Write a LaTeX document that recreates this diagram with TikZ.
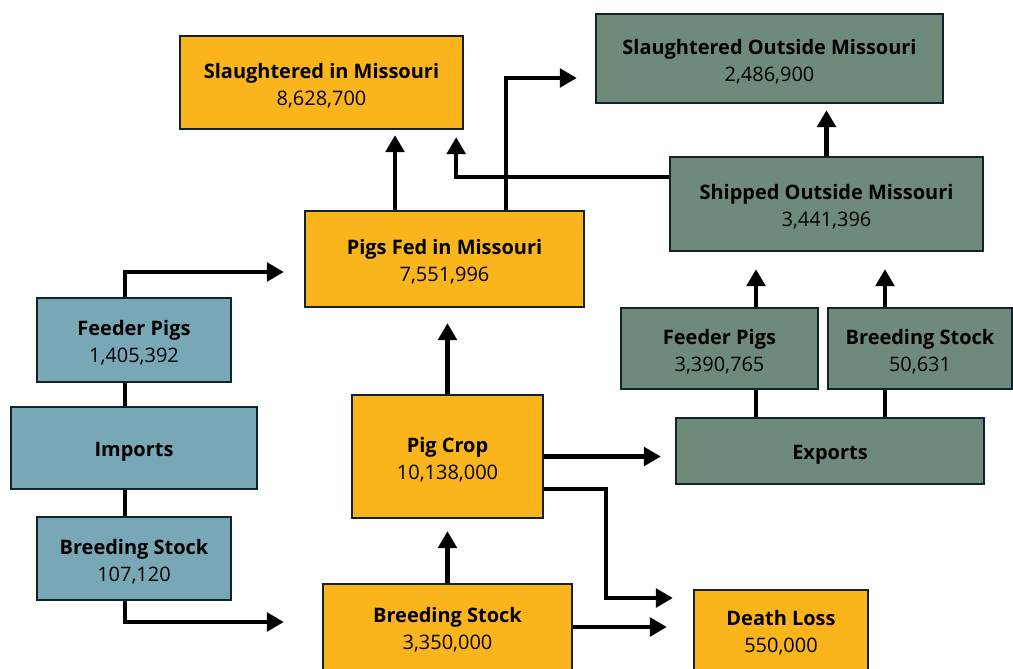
\documentclass[tikz,border=0pt]{standalone}
\usepackage{fontspec}
\setmainfont{Open Sans}
\usetikzlibrary{arrows.meta,calc}

\definecolor{pigorange}{HTML}{FBB51C}
\definecolor{pigblue}{HTML}{78A8B5}
\definecolor{piggreen}{HTML}{6E8A7A}
\definecolor{pigline}{HTML}{10222A}

\tikzset{
  box/.style={draw=pigline, line width=1.6pt, inner sep=0pt, align=center,
    font=\fontsize{14.2}{19}\selectfont},
  flow/.style={line width=3pt, -{Triangle[length=12pt,width=13pt]}},
  link/.style={line width=3pt}
}
\newcommand{\boxtitle}[1]{\rule{0pt}{15pt}\textbf{#1}}
\newcommand{\boxtext}[2]{\boxtitle{#1}\\#2}

\begin{document}
\begin{tikzpicture}[x=0.025cm, y=-0.025cm]
        \useasboundingbox (0,0) rectangle (1013,669);
        % missouri side
        \node[box, fill=pigorange, minimum width=7.075cm, minimum height=2.325cm] (slin) at (321.5,82.5) {\boxtext{Slaughtered in Missouri}{8,628,700}};
        \node[box, fill=pigorange, minimum width=6.975cm, minimum height=2.4cm] (fed) at (444.5,259) {\boxtext{Pigs Fed in Missouri}{7,551,996}};
        \node[box, fill=pigorange, minimum width=4.775cm, minimum height=3.075cm] (crop) at (447.5,456.5) {\boxtext{Pig Crop}{10,138,000}};
        \node[box, fill=pigorange, minimum width=6.225cm, minimum height=2.15cm] (breed) at (447.5,627) {\boxtext{Breeding Stock}{3,350,000}};
        \node[box, fill=pigorange, minimum width=4.35cm, minimum height=2cm] (death) at (781,630) {\boxtext{Death Loss}{550,000}};
        % imports
        \node[box, fill=pigblue, minimum width=4.85cm, minimum height=2.1cm] (feedin) at (134,340) {\boxtext{Feeder Pigs}{1,405,392}};
        \node[box, fill=pigblue, minimum width=6.15cm, minimum height=2.05cm] (imports) at (134,448) {\boxtitle{Imports}};
        \node[box, fill=pigblue, minimum width=4.85cm, minimum height=2.075cm] (breedin) at (134,558.5) {\boxtext{Breeding Stock}{107,120}};
        % exports
        \node[box, fill=piggreen, minimum width=8.675cm, minimum height=2.225cm] (slout) at (769.5,58.5) {\boxtext{Slaughtered Outside Missouri}{2,486,900}};
        \node[box, fill=piggreen, minimum width=7.825cm, minimum height=2.35cm] (ship) at (826.5,204) {\boxtext{Shipped Outside Missouri}{3,441,396}};
        \node[box, fill=piggreen, minimum width=4.925cm, minimum height=2.025cm] (feedout) at (719.5,348.5) {\boxtext{Feeder Pigs}{3,390,765}};
        \node[box, fill=piggreen, minimum width=4.6cm, minimum height=2.025cm] (breedout) at (920,348.5) {\boxtext{Breeding Stock}{50,631}};
        \node[box, fill=piggreen, minimum width=7.7cm, minimum height=1.65cm] (exports) at (830,451) {\boxtitle{Exports}};

        % connector start points
        \coordinate (fedL) at ($(fed.north)+(-49.5,0)$);
        \coordinate (fedR) at ($(fed.north)+(61.5,0)$);
        \coordinate (feedoutT) at ($(feedout.north)+(36.5,0)$);
        \coordinate (breedoutT) at ($(breedout.north)+(-35,0)$);
        \coordinate (expL) at ($(exports.north)+(-74,0)$);
        \coordinate (expR) at ($(exports.north)+(55,0)$);

        % connectors
        \draw[link] ($(feedin.south)+(-9,0)$) -- ($(imports.north)+(-9,0)$);
        \draw[link] ($(imports.south)+(-9,0)$) -- ($(breedin.north)+(-9,0)$);
        \draw[flow, shorten >=0.5cm] ($(feedin.north)+(-9,0)$) |- ($(fed.west)+(0,13)$);
        \draw[flow, shorten >=0.95cm] ($(breedin.south)+(-9,0)$) |- ($(breed.west)+(0,-5)$);
        \draw[flow, shorten >=0.3cm] (breed.north) -- (breed.north |- crop.south);
        \draw[flow, shorten >=0.375cm] (crop.north) -- (crop.north |- fed.south);
        \draw[flow, shorten >=0.125cm] (fedL) -- (fedL |- slin.south);
        \draw[flow, shorten >=0.45cm] (fedR) |- ($(slout.west)+(0,19.5)$);
        \draw[flow, shorten >=0.175cm] ($(ship.west)+(0,-27)$) -| ($(slin.south east)+(-8,0)$);
        \draw[flow, shorten >=0.15cm] (ship.north) -- (ship.north |- slout.south);
        \draw[flow, shorten >=0.425cm] (feedoutT) -- (feedoutT |- ship.south);
        \draw[flow, shorten >=0.425cm] (breedoutT) -- (breedoutT |- ship.south);
        \draw[link] (expL) -- (expL |- feedout.south);
        \draw[link] (expR) -- (expR |- breedout.south);
        \draw[flow, shorten >=0.35cm] (crop.east) -- (crop.east -| exports.west);
        \draw[flow, shorten >=0.5cm] ($(crop.east)+(0,32.5)$) -- ($(crop.east)+(62,32.5)$) |- ($(death.west)+(0,-32)$);
        \draw[flow, shorten >=0.65cm] (breed.east) -- (breed.east -| death.west);
\end{tikzpicture}
\end{document}
